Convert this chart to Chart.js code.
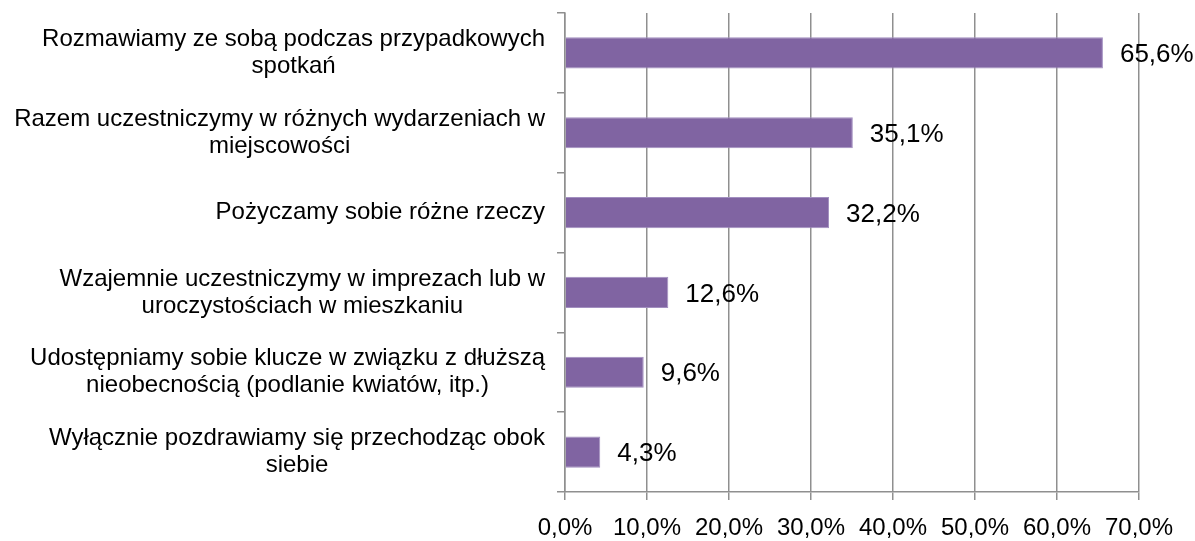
<!DOCTYPE html>
<html>
<head>
<meta charset="utf-8">
<script src="https://cdn.jsdelivr.net/npm/chart.js@4.4.1/dist/chart.umd.min.js"></script>
<style>
    html, body { margin: 0; padding: 0; background: #fff; }
    #wrap { width: 1195px; height: 541px; }
</style>
</head>
<body>
<div id="wrap"><canvas id="chart"></canvas></div>
<script>
const categories = [
    ["Rozmawiamy ze sobą podczas przypadkowych", "spotkań"],
    ["Razem uczestniczymy w różnych wydarzeniach w", "miejscowości"],
    ["Pożyczamy sobie różne rzeczy"],
    ["Wzajemnie uczestniczymy w imprezach lub w", "uroczystościach w mieszkaniu"],
    ["Udostępniamy sobie klucze w związku z dłuższą", "nieobecnością (podlanie kwiatów, itp.)"],
    ["Wyłącznie pozdrawiamy się przechodząc obok", "siebie"],
];
const values = [65.6, 35.1, 32.2, 12.6, 9.6, 4.3];
const xTicks = [0, 10, 20, 30, 40, 50, 60, 70];

const FONT = "'Liberation Sans', Arial, sans-serif";
const GRID = "#8f8f8f";

const fmt = v => v.toFixed(1).replace(".", ",") + "%";

// category labels: block right-aligned, lines centered inside block
const categoryLabels = {
    id: "categoryLabels",
    afterDraw(chart) {
        const ctx = chart.ctx;
        const yScale = chart.scales.y;
        const right = yScale.right - 20;
        const lineGap = 27;
        ctx.save();
        ctx.font = "24px " + FONT;
        ctx.fillStyle = "#000";
        ctx.textAlign = "center";
        ctx.textBaseline = "middle";
        chart.data.labels.forEach((lines, i) => {
            const y = yScale.getPixelForValue(i);
            const block = Math.max(...lines.map(l => ctx.measureText(l).width));
            const cx = right - block / 2;
            lines.forEach((line, j) => {
                const ly = y + (j - (lines.length - 1) / 2) * lineGap;
                ctx.fillText(line, cx, ly);
            });
        });
        ctx.restore();
    },
};

// value labels to the right of each bar
const valueLabels = {
    id: "valueLabels",
    afterDatasetsDraw(chart) {
        const ctx = chart.ctx;
        const meta = chart.getDatasetMeta(0);
        ctx.save();
        ctx.font = "26px " + FONT;
        ctx.fillStyle = "#000";
        ctx.textAlign = "left";
        ctx.textBaseline = "middle";
        meta.data.forEach((bar, i) => {
            ctx.fillText(fmt(values[i]), bar.x + 17, bar.y + 2);
        });
        ctx.restore();
    },
};

const chartCanvas = document.getElementById("chart").getContext("2d");

new Chart(chartCanvas, {
    type: "bar",
    data: {
        labels: categories,
        datasets: [
            {
                data: values,
                backgroundColor: "#8064a2",
                borderColor: "#a28fc0",
                borderWidth: 1,
                categoryPercentage: 1,
                barPercentage: 0.39,
            },
        ],
    },
    options: {
        indexAxis: "y",
        responsive: true,
        maintainAspectRatio: false,
        animation: false,
        layout: {
            padding: { top: 13, right: 56, bottom: 0, left: 0 },
        },
        scales: {
            x: {
                type: "linear",
                min: 0,
                max: 70,
                afterBuildTicks: scale => {
                    scale.ticks = xTicks.map(v => ({ value: v }));
                },
                afterFit: scale => {
                    scale.height = 49;
                },
                grid: {
                    color: GRID,
                    lineWidth: 1.5,
                    tickLength: 8,
                    tickColor: GRID,
                },
                border: { display: true, color: GRID, width: 1.5 },
                ticks: {
                    padding: 14,
                    color: "#000",
                    font: { family: FONT, size: 24 },
                    maxRotation: 0,
                    callback: v => fmt(v),
                },
            },
            y: {
                afterFit: scale => {
                    scale.width = 565;
                },
                grid: {
                    display: true,
                    drawOnChartArea: false,
                    offset: true,
                    color: GRID,
                    lineWidth: 1.5,
                    tickLength: 8,
                },
                border: { display: true, color: GRID, width: 1.5 },
                ticks: { display: false },
            },
        },
        plugins: {
            legend: { display: false },
            tooltip: { enabled: false },
        },
    },
    plugins: [categoryLabels, valueLabels],
});
</script>
</body>
</html>
